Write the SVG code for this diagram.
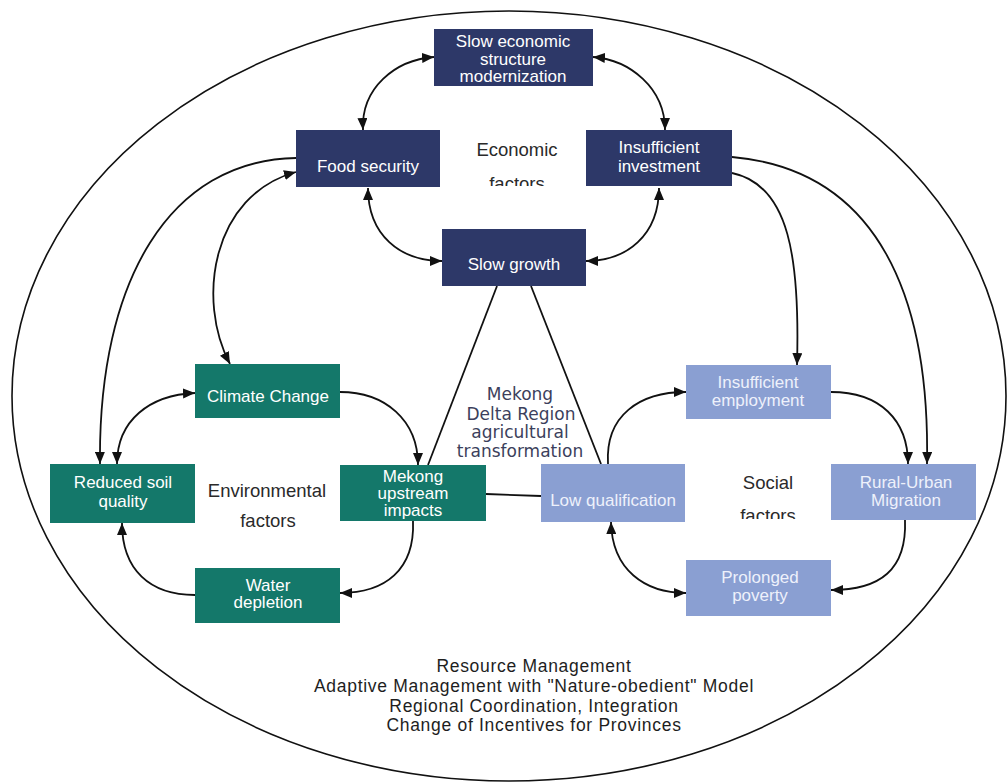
<svg xmlns="http://www.w3.org/2000/svg" width="1008" height="783" viewBox="0 0 1008 783">
<defs>
<marker id="ah" viewBox="0 0 12 10" refX="12" refY="5" markerWidth="12" markerHeight="10" markerUnits="userSpaceOnUse" orient="auto-start-reverse">
<path d="M0,0 L12,5 L0,10 z" fill="#111"/>
</marker>
<clipPath id="clipEco"><rect x="440" y="100" width="150" height="86"/></clipPath>
<clipPath id="clipSoc"><rect x="700" y="440" width="130" height="79"/></clipPath>
</defs>
<style>
.navy{fill:#2d3868}
.teal{fill:#14786a}
.light{fill:#8a9fd2}
.nt{font-family:"Liberation Sans",Arial,sans-serif;font-size:17px;fill:#ffffff;text-anchor:middle}
.lt{font-family:"Liberation Sans",Arial,sans-serif;font-size:17px;fill:#eef1fb;text-anchor:middle}
.lab{font-family:"Liberation Sans",Arial,sans-serif;font-size:18.5px;fill:#2a2a2a;text-anchor:middle}
.mek{font-family:"DejaVu Sans",Verdana,sans-serif;font-size:17px;fill:#3c3f5c;text-anchor:middle}
.bot{font-family:"Liberation Sans",Arial,sans-serif;font-size:17.5px;letter-spacing:0.7px;fill:#1e1e1e;text-anchor:middle}
.c{fill:none;stroke:#111;stroke-width:1.8}
</style>
<rect width="1008" height="783" fill="#ffffff"/>
<ellipse cx="509" cy="396" rx="497" ry="385" fill="none" stroke="#111" stroke-width="1.6"/>

<g id="connectors">
<path class="c" d="M363,130 C361,88 395,60 434,57" marker-start="url(#ah)" marker-end="url(#ah)"/>
<path class="c" d="M593,57 C630,60 665,88 665,130" marker-start="url(#ah)" marker-end="url(#ah)"/>
<path class="c" d="M368,188 C368,235 400,261 442,261" marker-start="url(#ah)" marker-end="url(#ah)"/>
<path class="c" d="M659,188 C659,235 627,261 586,261" marker-start="url(#ah)" marker-end="url(#ah)"/>
<path class="c" d="M296,158 C170,160 98,280 100,464" marker-end="url(#ah)"/>
<path class="c" d="M296,172 C212,195 196,300 230,364" marker-start="url(#ah)" marker-end="url(#ah)"/>
<path class="c" d="M195,393 C150,395 117,420 117,464" marker-start="url(#ah)" marker-end="url(#ah)"/>
<path class="c" d="M340,392 C385,392 418,420 418,465" marker-end="url(#ah)"/>
<path class="c" d="M413,521 C415,570 385,593 340,593" marker-end="url(#ah)"/>
<path class="c" d="M195,595 C150,595 122,570 122,523" marker-end="url(#ah)"/>
<path class="c" d="M732,173 C790,185 800,260 797,365" marker-end="url(#ah)"/>
<path class="c" d="M732,157 C880,170 930,300 927,464" marker-end="url(#ah)"/>
<path class="c" d="M831,392 C880,392 908,420 908,464" marker-end="url(#ah)"/>
<path class="c" d="M608,464 C605,415 640,392 686,392" marker-end="url(#ah)"/>
<path class="c" d="M611,522 C612,570 645,593 686,593" marker-start="url(#ah)" marker-end="url(#ah)"/>
<path class="c" d="M905,520 C907,570 880,590 831,590" marker-end="url(#ah)"/>
<path class="c" d="M497,286 L428,465"/>
<path class="c" d="M531,286 L601,464"/>
<path class="c" d="M486,494 L541,496"/>
</g>

<g id="slow-economic-structure">
<rect class="navy" x="434" y="29" width="159" height="57"/>
<text class="nt" x="513" y="47">Slow economic</text>
<text class="nt" x="513" y="65">structure</text>
<text class="nt" x="513" y="82">modernization</text>
</g>
<g id="food-security">
<rect class="navy" x="296" y="130" width="144" height="57"/>
<text class="nt" x="368" y="172">Food security</text>
</g>
<g id="insufficient-investment">
<rect class="navy" x="586" y="130" width="146" height="56"/>
<text class="nt" x="659" y="153">Insufficient</text>
<text class="nt" x="659" y="172">investment</text>
</g>
<g id="economic-factors">
<text class="lab" x="517" y="156">Economic</text>
<text class="lab" x="517" y="190" clip-path="url(#clipEco)">factors</text>
</g>
<g id="slow-growth">
<rect class="navy" x="442" y="229" width="144" height="57"/>
<text class="nt" x="514" y="270">Slow growth</text>
</g>

<g id="climate-change">
<rect class="teal" x="195" y="364" width="145" height="54"/>
<text class="nt" x="268" y="402">Climate Change</text>
</g>
<g id="reduced-soil-quality">
<rect class="teal" x="50" y="464" width="145" height="59"/>
<text class="nt" x="123" y="488">Reduced soil</text>
<text class="nt" x="123" y="507">quality</text>
</g>
<g id="environmental-factors">
<text class="lab" x="267" y="497">Environmental</text>
<text class="lab" x="268" y="527">factors</text>
</g>
<g id="mekong-upstream-impacts">
<rect class="teal" x="340" y="465" width="146" height="56"/>
<text class="nt" x="413" y="482">Mekong</text>
<text class="nt" x="413" y="499">upstream</text>
<text class="nt" x="413" y="516">impacts</text>
</g>
<g id="water-depletion">
<rect class="teal" x="195" y="568" width="145" height="55"/>
<text class="nt" x="268" y="591">Water</text>
<text class="nt" x="268" y="608">depletion</text>
</g>

<g id="mekong-delta-label">
<text class="mek" x="520" y="400" font-size="19px">Mekong</text>
<text class="mek" x="521" y="420">Delta Region</text>
<text class="mek" x="520" y="438">agricultural</text>
<text class="mek" x="520" y="457">transformation</text>
</g>

<g id="insufficient-employment">
<rect class="light" x="686" y="365" width="145" height="54"/>
<text class="lt" x="758" y="388">Insufficient</text>
<text class="lt" x="758" y="406">employment</text>
</g>
<g id="low-qualification">
<rect class="light" x="541" y="464" width="144" height="58"/>
<text class="lt" x="613" y="506">Low qualification</text>
</g>
<g id="rural-urban-migration">
<rect class="light" x="831" y="464" width="145" height="56"/>
<text class="lt" x="906" y="488">Rural-Urban</text>
<text class="lt" x="906" y="506">Migration</text>
</g>
<g id="social-factors">
<text class="lab" x="768" y="489">Social</text>
<text class="lab" x="768" y="522" clip-path="url(#clipSoc)">factors</text>
</g>
<g id="prolonged-poverty">
<rect class="light" x="686" y="560" width="145" height="56"/>
<text class="lt" x="760" y="583">Prolonged</text>
<text class="lt" x="760" y="601">poverty</text>
</g>

<g id="management-text">
<text class="bot" x="534" y="672">Resource Management</text>
<text class="bot" x="534" y="692">Adaptive Management with "Nature-obedient" Model</text>
<text class="bot" x="534" y="712">Regional Coordination, Integration</text>
<text class="bot" x="534" y="731">Change of Incentives for Provinces</text>
</g>
</svg>
